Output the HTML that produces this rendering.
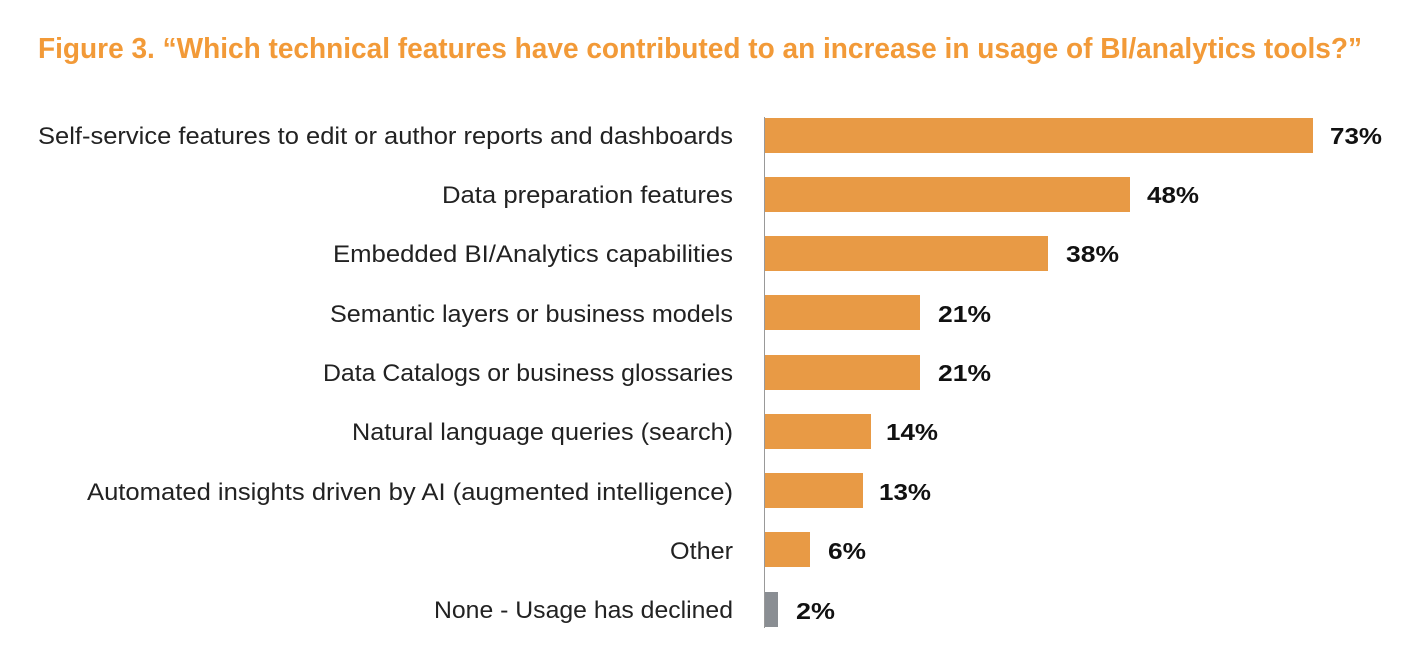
<!DOCTYPE html>
<html><head><meta charset="utf-8"><style>
html,body{margin:0;padding:0;background:#fff;}
svg{display:block;}
.l{font-family:"Liberation Sans",sans-serif;font-size:24px;fill:#222;}
.v{font-family:"Liberation Sans",sans-serif;font-size:23px;font-weight:bold;fill:#111;}
</style></head><body>
<svg width="1404" height="654" viewBox="0 0 1404 654">
<text x="38" y="58" textLength="1324" lengthAdjust="spacingAndGlyphs" style="font-family:'Liberation Sans',sans-serif;font-size:29px;font-weight:bold;fill:#F29A38">Figure 3. “Which technical features have contributed to an increase in usage of BI/analytics tools?”</text>
<line x1="764.5" y1="117" x2="764.5" y2="628" stroke="#999" stroke-width="1"/>
<g fill="#E89A45">
<rect x="765" y="118" width="548" height="35"/>
<rect x="765" y="177" width="365" height="35"/>
<rect x="765" y="236" width="283" height="35"/>
<rect x="765" y="295" width="155" height="35"/>
<rect x="765" y="355" width="155" height="35"/>
<rect x="765" y="414" width="106" height="35"/>
<rect x="765" y="473" width="98" height="35"/>
<rect x="765" y="532" width="45" height="35"/>
</g>
<rect x="765" y="592" width="13" height="35" fill="#8A8E93"/>
<g class="l" text-anchor="end">
<text x="733" y="144" textLength="695" lengthAdjust="spacingAndGlyphs">Self-service features to edit or author reports and dashboards</text>
<text x="733" y="203" textLength="291" lengthAdjust="spacingAndGlyphs">Data preparation features</text>
<text x="733" y="262" textLength="400" lengthAdjust="spacingAndGlyphs">Embedded BI/Analytics capabilities</text>
<text x="733" y="322" textLength="403" lengthAdjust="spacingAndGlyphs">Semantic layers or business models</text>
<text x="733" y="381" textLength="410" lengthAdjust="spacingAndGlyphs">Data Catalogs or business glossaries</text>
<text x="733" y="440" textLength="381" lengthAdjust="spacingAndGlyphs">Natural language queries (search)</text>
<text x="733" y="500" textLength="646" lengthAdjust="spacingAndGlyphs">Automated insights driven by AI (augmented intelligence)</text>
<text x="733" y="559" textLength="63" lengthAdjust="spacingAndGlyphs">Other</text>
<text x="733" y="618" textLength="299" lengthAdjust="spacingAndGlyphs">None - Usage has declined</text>
</g>
<g class="v">
<text x="1330" y="144" textLength="52" lengthAdjust="spacingAndGlyphs">73%</text>
<text x="1147" y="203" textLength="52" lengthAdjust="spacingAndGlyphs">48%</text>
<text x="1066" y="262" textLength="53" lengthAdjust="spacingAndGlyphs">38%</text>
<text x="938" y="322" textLength="53" lengthAdjust="spacingAndGlyphs">21%</text>
<text x="938" y="381" textLength="53" lengthAdjust="spacingAndGlyphs">21%</text>
<text x="886" y="440" textLength="52" lengthAdjust="spacingAndGlyphs">14%</text>
<text x="879" y="500" textLength="52" lengthAdjust="spacingAndGlyphs">13%</text>
<text x="828" y="559" textLength="38" lengthAdjust="spacingAndGlyphs">6%</text>
<text x="796" y="619" textLength="39" lengthAdjust="spacingAndGlyphs">2%</text>
</g>
</svg>
</body></html>
